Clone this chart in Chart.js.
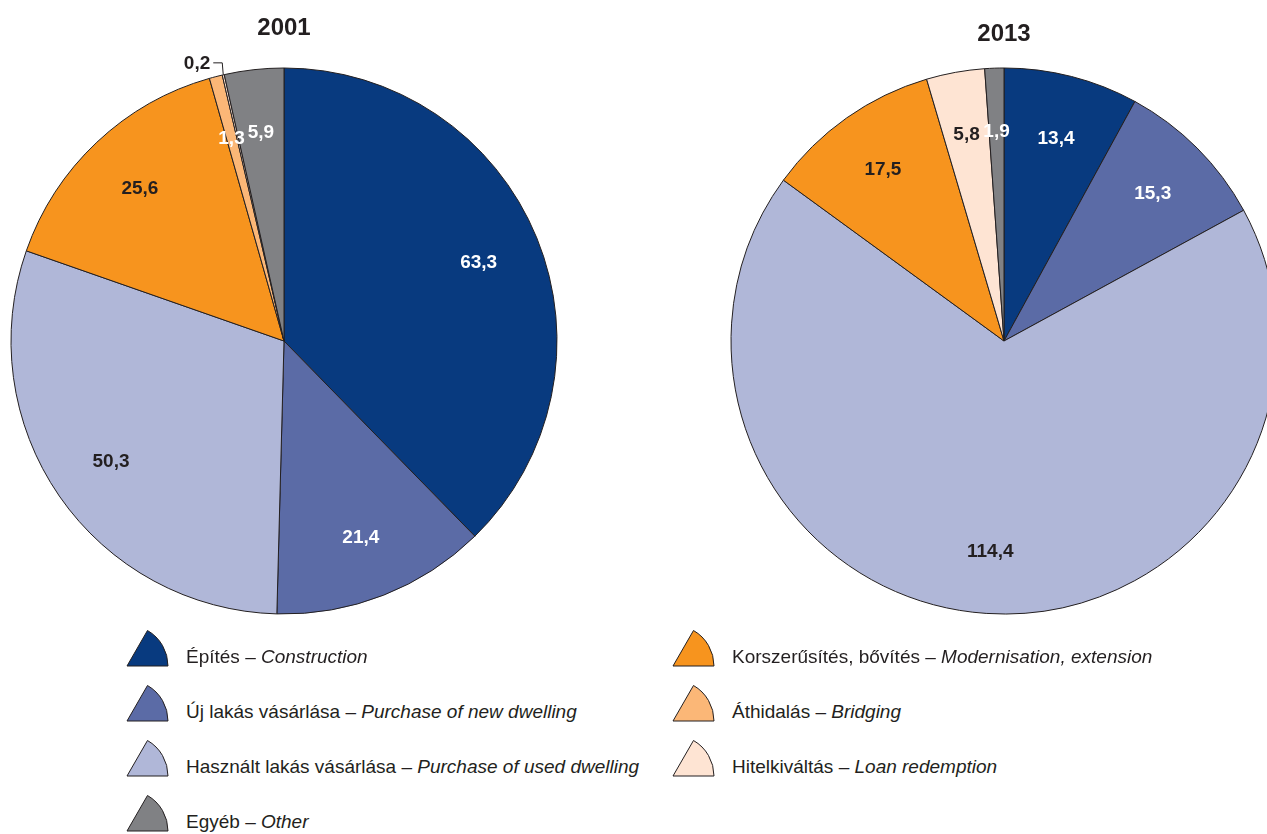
<!DOCTYPE html>
<html>
<head>
<meta charset="utf-8">
<script src="https://cdn.jsdelivr.net/npm/chart.js@4.4.1/dist/chart.umd.min.js"></script>
<style>
    html, body { margin: 0; padding: 0; background: #fff; overflow: hidden; }
    body { width: 1267px; height: 834px; position: relative; font-family: 'Liberation Sans Narrow', 'Arial Narrow', 'Liberation Sans', sans-serif; }
    canvas { position: absolute; }
    .title { position: absolute; font-weight: bold; font-size: 24px; color: #231f20; transform: translate(-50%, -50%); }
    .leg { position: absolute; height: 40px; display: flex; align-items: flex-end; font-size: 19px; color: #231f20; white-space: nowrap; }
    .leg canvas { position: static; margin-right: 17px; }
    .leg span { position: relative; top: -1px; }
</style>
</head>
<body>
<canvas id="pie2001" width="568" height="682" style="left:0;top:0"></canvas>
<canvas id="pie2013" width="556" height="682" style="left:726px;top:0"></canvas>
<div class="title" style="left:284px;top:27px">2001</div>
<div class="title" style="left:1004px;top:33px">2013</div>
<div id="legend"></div>

<script>
// Kategóriák (a kördiagram sorrendjében, 12 órától az óramutató járásával)
const categories = [
    'Építés', 'Új lakás vásárlása', 'Használt lakás vásárlása',
    'Korszerűsítés, bővítés', 'Áthidalás', 'Hitelkiváltás', 'Egyéb'
];
const categoriesEn = [
    'Construction', 'Purchase of new dwelling', 'Purchase of used dwelling',
    'Modernisation, extension', 'Bridging', 'Loan redemption', 'Other'
];
const values2001 = [63.3, 21.4, 50.3, 25.6, 1.3, 0.2, 5.9];
const values2013 = [13.4, 15.3, 114.4, 17.5, 0, 5.8, 1.9];

const colors = ['#083a7f', '#5b6ba6', '#b0b7d8', '#f7941e', '#fbb777', '#fee4d3', '#808184'];
const labelColors = ['#fff', '#fff', '#231f20', '#231f20', '#fff', '#231f20', '#fff'];

// Jelmagyarázat sorrendje: bal oszlop, jobb oszlop
const legendLeft = [0, 1, 2, 6];
const legendRight = [3, 4, 5];

const fmt = v => v.toFixed(1).replace('.', ',');

// Szeletcímkék rajzolása
const sliceLabels = {
    id: 'sliceLabels',
    afterDatasetsDraw(chart) {
        const ctx = chart.ctx;
        const data = chart.data.datasets[0].data;
        const meta = chart.getDatasetMeta(0);
        ctx.save();
        ctx.font = "bold 19px 'Liberation Sans Narrow', 'Arial Narrow', sans-serif";
        ctx.textBaseline = 'middle';
        meta.data.forEach((arc, i) => {
            const v = data[i];
            if (!v) return;
            const mid = (arc.startAngle + arc.endAngle) / 2;
            const R = arc.outerRadius;
            if (v < 1) {
                // kis szelet: kívül, vezetővonallal
                const x0 = arc.x + Math.cos(mid) * R;
                const y0 = arc.y + Math.sin(mid) * R;
                const x1 = x0 - 1, y1 = y0 - 12;
                const x2 = x1 - 9;
                ctx.strokeStyle = '#231f20';
                ctx.lineWidth = 1;
                ctx.beginPath();
                ctx.moveTo(x0, y0);
                ctx.lineTo(x1, y1);
                ctx.lineTo(x2, y1);
                ctx.stroke();
                ctx.fillStyle = '#231f20';
                ctx.textAlign = 'right';
                ctx.fillText(fmt(v), x2 - 3, y1 + 1);
                return;
            }
            const r = R * 0.77;
            ctx.fillStyle = labelColors[i];
            ctx.textAlign = 'center';
            ctx.fillText(fmt(v), arc.x + Math.cos(mid) * r, arc.y + Math.sin(mid) * r + 1);
        });
        ctx.restore();
    }
};

function createPie(id, values) {
    return new Chart(document.getElementById(id), {
        type: 'pie',
        data: {
            labels: categories,
            datasets: [{
                data: values,
                backgroundColor: colors,
                borderColor: '#231f20',
                borderWidth: 1,
                borderJoinStyle: 'miter'
            }]
        },
        options: {
            responsive: false,
            animation: false,
            devicePixelRatio: 1,
            radius: 273,
            layout: { padding: 0 },
            plugins: {
                legend: { display: false },
                tooltip: { enabled: false }
            }
        },
        plugins: [sliceLabels]
    });
}

createPie('pie2001', values2001);
createPie('pie2013', values2013);

// Jelmagyarázat ikonokkal (60 fokos körcikk)
function legendItem(i, left, top) {
    const div = document.createElement('div');
    div.className = 'leg';
    div.style.left = left + 'px';
    div.style.top = top + 'px';
    const c = document.createElement('canvas');
    c.width = 43; c.height = 40;
    const g = c.getContext('2d');
    const ox = 1, oy = 37, r = 41;
    g.beginPath();
    g.moveTo(ox, oy);
    g.lineTo(ox + r, oy);
    g.arc(ox, oy, r, 0, -Math.PI / 3, true);
    g.closePath();
    g.fillStyle = colors[i];
    g.fill();
    g.strokeStyle = '#231f20';
    g.lineWidth = 1;
    g.stroke();
    div.appendChild(c);
    const span = document.createElement('span');
    span.innerHTML = categories[i] + ' – <i>' + categoriesEn[i] + '</i>';
    div.appendChild(span);
    document.getElementById('legend').appendChild(div);
}

legendLeft.forEach((i, k) => legendItem(i, 126, 629 + k * 55));
legendRight.forEach((i, k) => legendItem(i, 672, 629 + k * 55));
</script>
</body>
</html>
